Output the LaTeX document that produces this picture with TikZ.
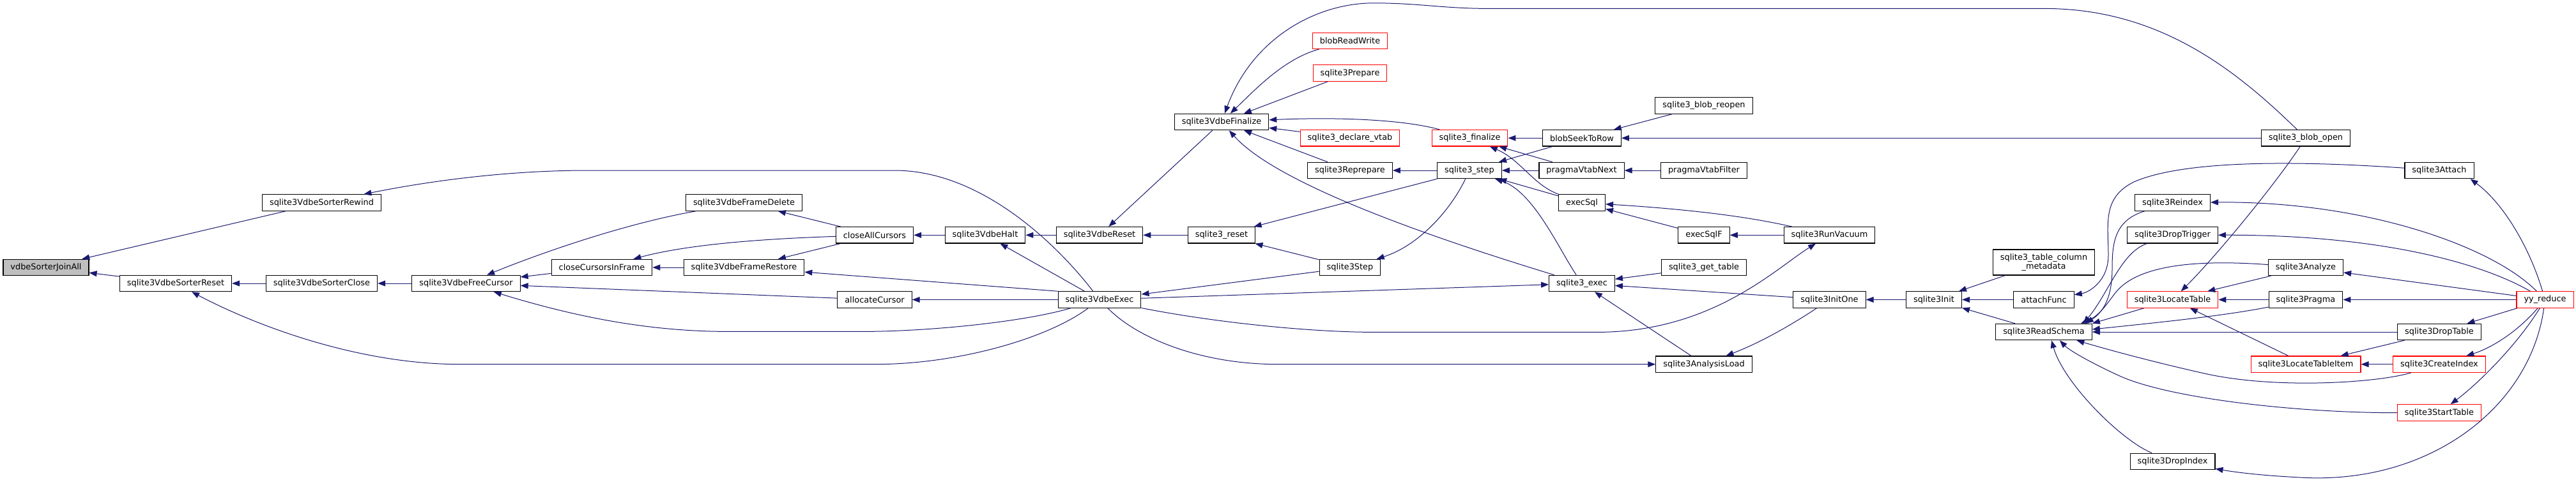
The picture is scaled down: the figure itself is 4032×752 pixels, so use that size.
\documentclass[tikz,border=0pt]{standalone}
\usepackage{fontspec}
\setmainfont{DejaVu Sans}
\usetikzlibrary{arrows.meta}
\definecolor{cgblue}{HTML}{191970}
\definecolor{cgred}{HTML}{FF0000}
\definecolor{cggray}{HTML}{BFBFBF}

\begin{document}
\begin{tikzpicture}[
  x=1pt, y=-1pt,
  fn/.style={draw=black, fill=white, line width=1.1pt, minimum height=25.4pt, inner xsep=11.5pt, inner ysep=0pt, align=center, font=\fontsize{12.9}{14.4}\selectfont},
  fnred/.style={fn, draw=cgred},
  fnsel/.style={fn, fill=cggray},
  calls/.style={->, draw=cgblue, line width=1pt},
  >={Triangle[length=12pt, width=9pt]}
]
\useasboundingbox (0,0) rectangle (4032,752);

\node[fnsel] (join)     at (72,419)      {vdbeSorterJoinAll};
\node[fn]    (rewind)   at (503.5,317.5) {sqlite3VdbeSorterRewind};
\node[fn]    (sreset)   at (275,444)     {sqlite3VdbeSorterReset};
\node[fn]    (sclose)   at (503.5,444)   {sqlite3VdbeSorterClose};
\node[fn]    (freecur)  at (729.5,444)   {sqlite3VdbeFreeCursor};
\node[fn]    (fdelete)  at (1164.5,317.5) {sqlite3VdbeFrameDelete};
\node[fn]    (ccif)     at (942,419)     {closeCursorsInFrame};
\node[fn]    (frestore) at (1164.5,419)  {sqlite3VdbeFrameRestore};
\node[fn]    (cac)      at (1369,368.3)  {closeAllCursors};
\node[fn]    (alloc)    at (1369,469.5)  {allocateCursor};
\node[fn]    (halt)     at (1542,368.3)  {sqlite3VdbeHalt};
\node[fn]    (vreset)   at (1721,368.3)  {sqlite3VdbeReset};
\node[fn]    (s3reset)  at (1912,368.3)  {sqlite3\_reset};
\node[fn]    (exec)     at (1721,469.5)  {sqlite3VdbeExec};
\node[fn]    (final)    at (1912,191)    {sqlite3VdbeFinalize};
\node[fnred] (brw)      at (2113,63.8)   {blobReadWrite};
\node[fnred] (prep)     at (2113,114.6)  {sqlite3Prepare};
\node[fnred] (declvtab) at (2113,216.3)  {sqlite3\_declare\_vtab};
\node[fn]    (reprep)   at (2113,267)    {sqlite3Reprepare};
\node[fn]    (step3)    at (2113,419)    {sqlite3Step};
\node[fnred] (s3final)  at (2300.5,216.3) {sqlite3\_finalize};
\node[fn]    (s3step)   at (2300,267)    {sqlite3\_step};
\node[fn]    (seek)     at (2476,216.3)  {blobSeekToRow};
\node[fn]    (pvnext)   at (2475.5,267)  {pragmaVtabNext};
\node[fn]    (execsql)  at (2476,317.5)  {execSql};
\node[fn]    (s3exec)   at (2476,444)    {sqlite3\_exec};
\node[fn]    (reopen)   at (2667,165.5)  {sqlite3\_blob\_reopen};
\node[fn]    (pvfilter) at (2667,267)    {pragmaVtabFilter};
\node[fn]    (execsqlf) at (2667,368.3)  {execSqlF};
\node[fn]    (gettable) at (2667,419)    {sqlite3\_get\_table};
\node[fn]    (aload)    at (2667,570.7)  {sqlite3AnalysisLoad};
\node[fn]    (vacuum)   at (2863.5,368.3) {sqlite3RunVacuum};
\node[fn]    (initone)  at (2863.5,469.5) {sqlite3InitOne};
\node[fn]    (init)     at (3027,469.5)  {sqlite3Init};
\node[fn, minimum height=40pt] (tcm) at (3199,411) {sqlite3\_table\_column\\\_metadata};
\node[fn]    (attachf)  at (3199,469.5)  {attachFunc};
\node[fn]    (rschema)  at (3199,520)    {sqlite3ReadSchema};
\node[fn]    (bopen)    at (3609,216.3)  {sqlite3\_blob\_open};
\node[fn]    (attach)   at (3818,267)    {sqlite3Attach};
\node[fn]    (reindex)  at (3400.5,317.5) {sqlite3Reindex};
\node[fn]    (droptrig) at (3400.5,368.3) {sqlite3DropTrigger};
\node[fn]    (analyze)  at (3609,419)    {sqlite3Analyze};
\node[fnred] (loctab)   at (3400.5,469.5) {sqlite3LocateTable};
\node[fn]    (pragma)   at (3609,469.5)  {sqlite3Pragma};
\node[fnred] (yyr)      at (3983.5,469.5) {yy\_reduce};
\node[fn]    (droptab)  at (3818,520)    {sqlite3DropTable};
\node[fnred] (locitem)  at (3609,570.7)  {sqlite3LocateTableItem};
\node[fnred] (cindex)   at (3818,570.7)  {sqlite3CreateIndex};
\node[fnred] (starttab) at (3818,646.5)  {sqlite3StartTable};
\node[fn]    (dropidx)  at (3400.5,722.8) {sqlite3DropIndex};

% sorter / cursor side
\draw[calls] (rewind) -- (join);
\draw[calls] (sreset) -- (join);
\draw[calls] (exec) .. controls (1660,390) and (1540,267) .. (1400,267) -- (920,267) .. controls (800,267) and (680,282) .. (rewind);
\draw[calls] (sclose) -- (sreset);
\draw[calls] (exec) .. controls (1640,530) and (1500,570.7) .. (1370,570.7) -- (720,570.7) .. controls (560,570.7) and (400,510) .. (sreset);
\draw[calls] (freecur) -- (sclose);
\draw[calls] (fdelete) .. controls (980,350) and (850,395) .. (freecur);
\draw[calls] (ccif) -- (freecur);
\draw[calls] (alloc) -- (freecur);
\draw[calls] (exec) .. controls (1600,505) and (1450,519.4) .. (1350,519.4) -- (1140,519.4) .. controls (1000,519.4) and (880,490) .. (freecur);
\draw[calls] (cac) -- (fdelete);
\draw[calls] (cac) .. controls (1200,374) and (1080,382) .. (ccif);
\draw[calls] (frestore) -- (ccif);
\draw[calls] (cac) -- (frestore);
\draw[calls] (exec.north west) -- (frestore);
\draw[calls] (halt) -- (cac);
\draw[calls] (exec) -- (alloc);
\draw[calls] (vreset) -- (halt);
\draw[calls] (exec) -- (halt);
\draw[calls] (s3reset) -- (vreset);
\draw[calls] (final) -- (vreset);
\draw[calls] (s3step) -- (s3reset);
\draw[calls] (step3) -- (s3reset);
\draw[calls] (step3) -- (exec);
\draw[calls] (exec) -- (s3exec);
\draw[calls] (exec) .. controls (1900,505) and (2050,520.4) .. (2150,520.4) -- (2500,520.4) .. controls (2680,520.4) and (2780,420) .. (vacuum);
\draw[calls] (exec) .. controls (1780,530) and (1880,570.7) .. (2000,570.7) -- (aload);

% finalize / step
\draw[calls] (bopen) .. controls (3500,110) and (3380,13.4) .. (3200,13.4) -- (2330,13.4) .. controls (2260,13.4) and (2220,4.8) .. (2150,4.8) .. controls (2060,4.8) and (1960,60) .. (final);
\draw[calls] (brw) .. controls (2010,92) and (1965,140) .. (final);
\draw[calls] (prep) -- (final);
\draw[calls] (s3final) .. controls (2200,188) and (2100,183) .. (final);
\draw[calls] (declvtab) -- (final);
\draw[calls] (reprep) -- (final);
\draw[calls] (s3exec) .. controls (2250,375) and (2000,290) .. (final);
\draw[calls] (s3step) -- (reprep);
\draw[calls] (s3step) .. controls (2270,330) and (2220,385) .. (step3);
\draw[calls] (seek) -- (s3final);
\draw[calls] (execsql) .. controls (2400,290) and (2380,250) .. (s3final);
\draw[calls] (pvnext) -- (s3final);
\draw[calls] (seek) -- (s3step);
\draw[calls] (pvnext) -- (s3step);
\draw[calls] (execsql) -- (s3step);
\draw[calls] (s3exec) .. controls (2440,390) and (2400,300) .. (s3step);
\draw[calls] (reopen) -- (seek);
\draw[calls] (bopen) -- (seek);
\draw[calls] (pvfilter) -- (pvnext);
\draw[calls] (vacuum) .. controls (2760,345) and (2680,330) .. (execsql);
\draw[calls] (execsqlf) -- (execsql);
\draw[calls] (vacuum) -- (execsqlf);
\draw[calls] (gettable) -- (s3exec);
\draw[calls] (initone) -- (s3exec);
\draw[calls] (aload) -- (s3exec);
\draw[calls] (initone) .. controls (2810,505) and (2760,535) .. (aload);

% schema side
\draw[calls] (init) -- (initone);
\draw[calls] (tcm) -- (init);
\draw[calls] (attachf) -- (init);
\draw[calls] (rschema) -- (init);
\draw[calls] (attach) .. controls (3600,252) and (3420,250) .. (3340,285) .. controls (3290,310) and (3300,350) .. (3300,400) .. controls (3300,440) and (3270,458) .. (attachf);
\draw[calls] (reindex) .. controls (3310,345) and (3306,380) .. (3306,420) .. controls (3306,470) and (3290,490) .. ([xshift=-10pt]rschema.north east);
\draw[calls] (droptrig) .. controls (3320,395) and (3300,460) .. ([xshift=-14pt]rschema.north east);
\draw[calls] (analyze) .. controls (3420,405) and (3340,420) .. (3310,460) .. controls (3295,480) and (3285,495) .. ([xshift=-18pt]rschema.north east);
\draw[calls] (loctab) -- (rschema.north east);
\draw[calls] (pragma) .. controls (3480,495) and (3380,505) .. ([yshift=4pt]rschema.east);
\draw[calls] (droptab) -- (rschema);
\draw[calls] (cindex) .. controls (3720,600) and (3560,610) .. (3450,585) .. controls (3370,567) and (3300,548) .. ([xshift=-24.5pt]rschema.south east);
\draw[calls] (starttab) .. controls (3600,647) and (3400,625) .. (3320,590) .. controls (3280,572) and (3240,550) .. ([xshift=-51pt]rschema.south east);
\draw[calls] (dropidx) .. controls (3320,690) and (3230,600) .. ([xshift=12pt]rschema.south);
\draw[calls] (bopen) .. controls (3560,290) and (3470,400) .. (loctab);
\draw[calls] (analyze) -- (loctab);
\draw[calls] (pragma) -- (loctab);
\draw[calls] (locitem) -- (loctab);
\draw[calls] (droptab) -- (locitem);
\draw[calls] (cindex) -- (locitem);

% yy_reduce
\draw[calls] (yyr) .. controls (3900,385) and (3700,315) .. (reindex);
\draw[calls] (yyr) .. controls (3880,410) and (3720,368) .. (droptrig);
\draw[calls] (yyr) .. controls (3960,390) and (3920,320) .. ([xshift=-6pt]attach.south east);
\draw[calls] (yyr) -- (analyze);
\draw[calls] (yyr) -- (pragma);
\draw[calls] (yyr) -- (droptab);
\draw[calls] (yyr) .. controls (3940,520) and (3900,545) .. (cindex);
\draw[calls] (yyr) .. controls (3940,540) and (3880,600) .. (starttab);
\draw[calls] (yyr) .. controls (3960,640) and (3800,760) .. (3600,748) .. controls (3540,745) and (3500,740) .. (dropidx);
\end{tikzpicture}
\end{document}
